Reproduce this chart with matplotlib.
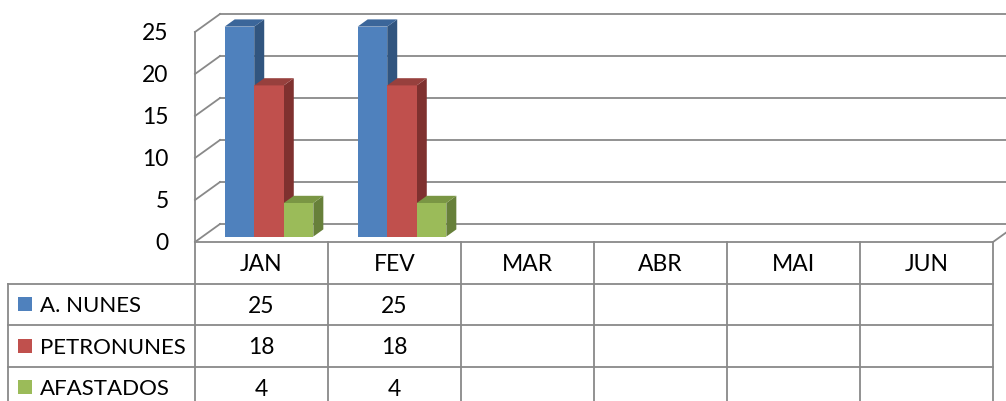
import numpy as np
import matplotlib.pyplot as plt
from matplotlib.patches import Polygon, Rectangle

plt.rcParams['font.family'] = ['Lato', 'DejaVu Sans']

# dados
meses = ['JAN', 'FEV', 'MAR', 'ABR', 'MAI', 'JUN']
series = ['A. NUNES', 'PETRONUNES', 'AFASTADOS']
a_nunes = [25, 25, np.nan, np.nan, np.nan, np.nan]
petronunes = [18, 18, np.nan, np.nan, np.nan, np.nan]
afastados = [4, 4, np.nan, np.nan, np.nan, np.nan]
valores = [a_nunes, petronunes, afastados]
yticks = [0, 5, 10, 15, 20, 25]

cores = ['#4F81BD', '#C0504D', '#9BBB59']
cores_lado = ['#31557F', '#7F312F', '#67803A']
cores_topo = ['#3B669A', '#97403D', '#7A9644']
grade = '#898989'

W, H = 1006, 401
fig = plt.figure(figsize=(W / 100, H / 100), dpi=100)

# eixo principal: plano frontal, x em categorias, y em valores
x_ini, x_fim = 195, 993
y_zero, y_topo = 242, 32
ax = fig.add_axes([x_ini / W, (H - y_zero) / H, (x_fim - x_ini) / W, (y_zero - y_topo) / H])
ax.set_xlim(0, 6)
ax.set_ylim(0, 25)
for s in ax.spines.values():
    s.set_visible(False)
ax.set_xticks([])
ax.set_yticks(yticks)
ax.tick_params(axis='y', length=0, pad=19, labelsize=16.5)

# profundidade em unidades dos dados
larg_cat = (x_fim - x_ini) / 6
px_val = (y_zero - y_topo) / 25
DX = 25 / larg_cat
DY = 18 / px_val


def proj(x, v, d):
    return (x + d * DX, v + d * DY)


# parede lateral e parede do fundo com grade
lw = 1.3
for v in yticks:
    ax.plot([0, DX], [v, v + DY], color=grade, lw=lw, clip_on=False, zorder=1)
    ax.plot([DX, 6 + DX], [v + DY, v + DY], color=grade, lw=lw, clip_on=False, zorder=1)
ax.plot([0, 0], [0, 25], color=grade, lw=lw, clip_on=False, zorder=1)
# chão
ax.plot([0, 6], [0, 0], color=grade, lw=lw, clip_on=False, zorder=1)
ax.plot([6, 6 + DX], [0, DY], color=grade, lw=lw, clip_on=False, zorder=1)

# barras 3D
larg = 2 / 3 / 3
d0, d1 = 0.3, 0.7
for i in range(len(meses)):
    for k, vals in enumerate(valores):
        v = vals[i]
        if np.isnan(v):
            continue
        x0 = i + 1 / 6 + k * larg
        x1 = x0 + larg
        frente = [proj(x0, 0, d0), proj(x1, 0, d0), proj(x1, v, d0), proj(x0, v, d0)]
        lado = [proj(x1, 0, d0), proj(x1, 0, d1), proj(x1, v, d1), proj(x1, v, d0)]
        topo = [proj(x0, v, d0), proj(x1, v, d0), proj(x1, v, d1), proj(x0, v, d1)]
        for pts, c in [(lado, cores_lado[k]), (frente, cores[k]), (topo, cores_topo[k])]:
            ax.add_patch(Polygon(pts, closed=True, facecolor=c, edgecolor='none',
                                 clip_on=False, zorder=3))

# tabela de dados
x_leg = 8
alt_lin = 41.5
tab_y_base = y_zero + 4 * alt_lin
axt = fig.add_axes([x_leg / W, (H - tab_y_base) / H, (x_fim - x_leg) / W, 4 * alt_lin / H])
axt.set_xlim(-(x_ini - x_leg) / larg_cat, 6)
axt.set_ylim(4, 0)
axt.axis('off')
x_esq = -(x_ini - x_leg) / larg_cat

for i in range(7):
    axt.plot([i, i], [0, 4], color=grade, lw=lw, clip_on=False)
axt.plot([x_esq, x_esq], [1, 4], color=grade, lw=lw, clip_on=False)
for r in [1, 2, 3]:
    axt.plot([x_esq, 6], [r, r], color=grade, lw=lw, clip_on=False)

for i, m in enumerate(meses):
    axt.text(i + 0.5, 0.55, m, ha='center', va='center', fontsize=16.5)

q = 14 / larg_cat
for k, nome in enumerate(series):
    yc = k + 1.5
    axt.add_patch(Rectangle((x_esq + 10 / larg_cat, yc - 0.17), q, 0.34,
                            facecolor=cores[k], edgecolor='none', clip_on=False))
    axt.text(x_esq + 32 / larg_cat, yc + 0.05, nome, ha='left', va='center', fontsize=16)
    for i in range(len(meses)):
        v = valores[k][i]
        if not np.isnan(v):
            axt.text(i + 0.5, yc + 0.05, str(int(v)), ha='center', va='center', fontsize=16.5)

fig.savefig('out.png', dpi=100)
